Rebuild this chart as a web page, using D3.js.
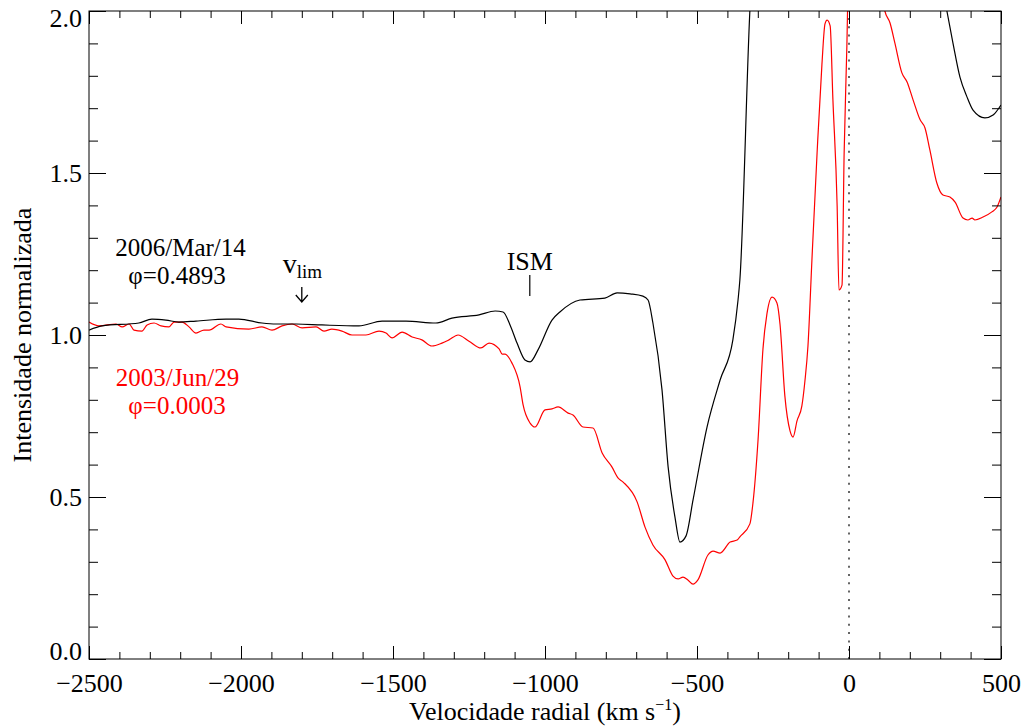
<!DOCTYPE html>
<html>
<head>
<meta charset="utf-8">
<script src="https://cdn.jsdelivr.net/npm/d3@7"></script>
<style>
  html, body { margin: 0; padding: 0; background: #fff; }
  svg { display: block; }
  text { font-family: "Liberation Serif", "Times New Roman", serif; }
</style>
</head>
<body>
<svg id="chart" width="1026" height="727"></svg>
<script>
// Spectrum 2006/Mar/14 (phase 0.4893): radial velocity (km/s) and normalized intensity
const velBlack = [-2500, -2457, -2336, -2293, -2247, -2204, -2148, -2049, -2007, -1931, -1885, -1819,
  -1734, -1612, -1536, -1457, -1359, -1306, -1217, -1164, -1138, -1115, -1092, -1066, -1049, -1023,
  -977, -951, -885, -803, -763, -720, -678, -661, -645, -615, -595, -572, -556, -536, -513, -467,
  -424, -382, -365, -359, -326, -300, 0, 250, 300, 322, 342, 365, 388, 408, 447, 474, 500];
const intBlack = [1.015, 1.028, 1.037, 1.049, 1.046, 1.040, 1.043, 1.049, 1.049, 1.037, 1.034, 1.034,
  1.031, 1.028, 1.043, 1.043, 1.037, 1.052, 1.062, 1.074, 1.071, 1.031, 0.975, 0.923, 0.917, 0.954,
  1.046, 1.071, 1.108, 1.114, 1.130, 1.127, 1.120, 1.108, 1.037, 0.830, 0.593, 0.435, 0.361, 0.380, 0.491, 0.716,
  0.861, 0.985, 1.108, 1.170, 2.003, 2.4, 3.5, 2.5, 2.12, 2.0, 1.901, 1.796, 1.735, 1.694, 1.670, 1.679, 1.710];

// Spectrum 2003/Jun/29 (phase 0.0003)
const velRed = [-2500, -2467, -2411, -2391, -2368, -2352, -2326, -2309, -2286, -2263, -2237, -2220,
  -2194, -2171, -2148, -2122, -2105, -2066, -2049, -1974, -1931, -1898, -1865, -1832, -1799, -1753,
  -1727, -1701, -1668, -1635, -1589, -1546, -1523, -1503, -1470, -1437, -1405, -1372, -1339, -1316,
  -1286, -1250, -1211, -1184, -1151, -1141, -1132, -1109, -1082, -1072, -1049, -1033, -1000, -977,
  -957, -924, -908, -875, -842, -812, -780, -760, -743, -697, -671, -645, -605, -579, -562, -546,
  -530, -513, -497, -464, -447, -424, -391, -368, -359, -326, -316, -299, -283, -270, -253, -237,
  -227, -211, -194, -184, -171, -155, -145, -135, -122, -105, -89, -79, -72, -62, -53, -39, -33,
  -23, -16, -7, 0, 60, 118, 135, 151, 174, 191, 211, 234, 250, 266, 289, 309, 332, 349, 375, 391,
  405, 414, 441, 470, 487, 500];
const intRed = [1.040, 1.028, 1.034, 1.025, 1.034, 1.015, 1.012, 1.031, 1.037, 1.028, 1.025, 1.040,
  1.040, 1.025, 1.006, 1.015, 1.015, 1.034, 1.025, 1.018, 1.025, 1.015, 1.028, 1.034, 1.022, 1.025,
  1.012, 1.018, 1.012, 1.000, 1.000, 1.012, 1.006, 0.991, 1.009, 0.994, 0.985, 0.966, 0.975, 0.985,
  1.000, 0.981, 0.960, 0.975, 0.957, 0.941, 0.941, 0.914, 0.840, 0.784, 0.728, 0.716, 0.769, 0.772,
  0.778, 0.759, 0.753, 0.716, 0.713, 0.636, 0.593, 0.559, 0.546, 0.485, 0.407, 0.352, 0.306, 0.256, 0.247, 0.253,
  0.244, 0.231, 0.244, 0.321, 0.333, 0.327, 0.361, 0.367, 0.377, 0.417, 0.481, 0.679, 0.957, 1.065, 1.117, 1.099,
  1.034, 0.812, 0.704, 0.685, 0.735, 0.781, 0.858, 0.966, 1.231, 1.562, 1.836, 1.960, 1.972, 1.954, 1.728, 1.398, 1.139,
  1.154, 1.562, 1.892, 2.2, 2.6, 2.0, 1.963, 1.901, 1.809, 1.781, 1.725, 1.664, 1.639, 1.571, 1.469, 1.432, 1.426, 1.410, 1.361, 1.355,
  1.361, 1.355, 1.364, 1.380, 1.395, 1.426];

// Axis ticks
const xMajorTicks = [-2500, -2000, -1500, -1000, -500, 0, 500];
const xMinorTicks = d3.range(-2500, 501, 100);
const yMajorTicks = [0.0, 0.5, 1.0, 1.5, 2.0];
const yMinorTicks = d3.range(0, 21, 1).map(d => d / 10);

const svg = d3.select("#chart");
const margin = { left: 89, right: 25, top: 11, bottom: 68 };
const W = 1026, H = 727;
const x = d3.scaleLinear().domain([-2500, 500]).range([margin.left, W - margin.right]);
const y = d3.scaleLinear().domain([0, 2]).range([H - margin.bottom, margin.top]);

const fontSize = 26;
const minus = s => s.replace("-", "\u2212");

svg.append("defs").append("clipPath").attr("id", "plotclip")
  .append("rect")
  .attr("x", x(-2500)).attr("y", y(2))
  .attr("width", x(500) - x(-2500)).attr("height", y(0) - y(2));

// Zero-velocity reference
svg.append("line")
  .attr("x1", x(0)).attr("x2", x(0))
  .attr("y1", y(0)).attr("y2", y(2))
  .attr("stroke", "#333").attr("stroke-width", 1.5)
  .attr("stroke-dasharray", "2,6.3");

// Spectra
const line = d3.line().curve(d3.curveMonotoneX).x(d => x(d[0])).y(d => y(d[1]));
const plot = svg.append("g").attr("clip-path", "url(#plotclip)");
plot.append("path")
  .datum(velRed.map((v, i) => [v, intRed[i]]))
  .attr("fill", "none").attr("stroke", "#ff0000").attr("stroke-width", 1.2)
  .attr("d", line);
plot.append("path")
  .datum(velBlack.map((v, i) => [v, intBlack[i]]))
  .attr("fill", "none").attr("stroke", "#000").attr("stroke-width", 1.2)
  .attr("d", line);

// Axes: inward ticks on all four sides
function styleAxis(g) {
  g.select(".domain").remove();
  g.selectAll(".tick line").attr("stroke", "#000").attr("stroke-width", 1);
  g.selectAll("text").attr("font-size", fontSize).attr("fill", "#000")
    .attr("font-family", "'Liberation Serif', 'Times New Roman', serif");
}
const bottomY = y(0), topY = y(2), leftX = x(-2500), rightX = x(500);

svg.append("g").attr("transform", `translate(0,${bottomY})`)
  .call(d3.axisBottom(x).tickValues(xMinorTicks).tickSize(-7).tickFormat(""))
  .call(styleAxis);
svg.append("g").attr("transform", `translate(0,${bottomY})`)
  .call(d3.axisBottom(x).tickValues(xMajorTicks).tickSize(-13).tickPadding(15)
    .tickFormat(d => minus(d3.format("d")(d))))
  .call(styleAxis);
svg.append("g").attr("transform", `translate(0,${topY})`)
  .call(d3.axisTop(x).tickValues(xMinorTicks).tickSize(-7).tickFormat(""))
  .call(styleAxis);
svg.append("g").attr("transform", `translate(0,${topY})`)
  .call(d3.axisTop(x).tickValues(xMajorTicks).tickSize(-13).tickFormat(""))
  .call(styleAxis);

svg.append("g").attr("transform", `translate(${leftX},0)`)
  .call(d3.axisLeft(y).tickValues(yMinorTicks).tickSize(-9).tickFormat(""))
  .call(styleAxis);
const yLeft = svg.append("g").attr("transform", `translate(${leftX},0)`)
  .call(d3.axisLeft(y).tickValues(yMajorTicks).tickSize(-17).tickPadding(7)
    .tickFormat(d3.format(".1f")))
  .call(styleAxis);
// keep the end labels inside the axis span
yLeft.selectAll(".tick text")
  .attr("dy", d => d === 2 ? "15px" : d === 0 ? "0px" : "0.32em");
svg.append("g").attr("transform", `translate(${rightX},0)`)
  .call(d3.axisRight(y).tickValues(yMinorTicks).tickSize(-9).tickFormat(""))
  .call(styleAxis);
svg.append("g").attr("transform", `translate(${rightX},0)`)
  .call(d3.axisRight(y).tickValues(yMajorTicks).tickSize(-17).tickFormat(""))
  .call(styleAxis);

// Frame
svg.append("rect")
  .attr("x", leftX).attr("y", topY)
  .attr("width", rightX - leftX).attr("height", bottomY - topY)
  .attr("fill", "none").attr("stroke", "#000").attr("stroke-width", 1);

// Axis titles
const xt = svg.append("text")
  .attr("x", (leftX + rightX) / 2).attr("y", 720)
  .attr("text-anchor", "middle").attr("font-size", fontSize).attr("fill", "#000");
xt.append("tspan").text("Velocidade radial (km s");
xt.append("tspan").attr("font-size", 16).attr("dy", -10).text("\u22121");
xt.append("tspan").attr("dy", 10).text(")");

svg.append("text")
  .attr("transform", `translate(31,${(topY + bottomY) / 2}) rotate(-90)`)
  .attr("text-anchor", "middle").attr("font-size", fontSize).attr("fill", "#000")
  .text("Intensidade normalizada");

// Epoch labels (two lines each)
function epochLabel(cx, y0, lines, color) {
  lines.forEach((s, i) => {
    svg.append("text").attr("text-anchor", "middle")
      .attr("font-size", 25).attr("fill", color)
      .attr("x", cx[i]).attr("y", y0 + i * 28).text(s);
  });
}
epochLabel([180.5, 177], 256, ["2006/Mar/14", "\u03c6=0.4893"], "#000");
epochLabel([177.5, 177], 386, ["2003/Jun/29", "\u03c6=0.0003"], "#ff0000");

// Terminal velocity marker
const vLim = -1800;
const vt = svg.append("text").attr("x", x(vLim) - 19).attr("y", 273)
  .attr("font-size", 28).attr("fill", "#000");
vt.append("tspan").text("v");
vt.append("tspan").attr("font-size", 19).attr("dy", 5).text("lim");
const ax = x(vLim), ay1 = y(1.148), ay2 = y(1.102);
svg.append("path")
  .attr("d", `M${ax},${ay1}L${ax},${ay2}M${ax - 6},${ay2 - 7}L${ax},${ay2}L${ax + 6},${ay2 - 7}`)
  .attr("fill", "none").attr("stroke", "#000").attr("stroke-width", 1.3);

// Interstellar absorption marker
const vIsm = -1050;
svg.append("text").attr("x", x(vIsm)).attr("y", 270).attr("text-anchor", "middle")
  .attr("font-size", fontSize).attr("fill", "#000").text("ISM");
svg.append("line")
  .attr("x1", x(vIsm)).attr("x2", x(vIsm))
  .attr("y1", y(1.185)).attr("y2", y(1.120))
  .attr("stroke", "#000").attr("stroke-width", 1.2);
</script>
</body>
</html>
